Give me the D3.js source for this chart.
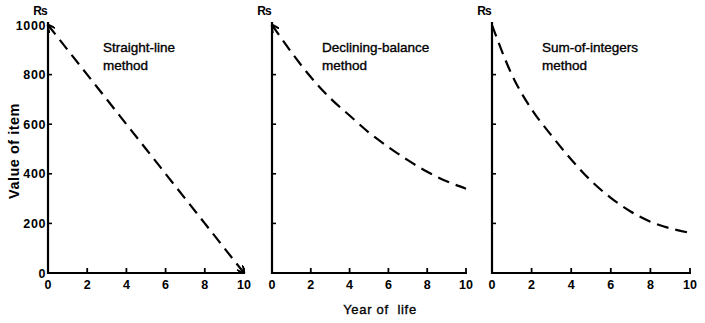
<!DOCTYPE html>
<html><head><meta charset="utf-8">
<script src="https://cdn.jsdelivr.net/npm/d3@7"></script>
<style>
html,body{margin:0;padding:0;background:#fff;}
text{font-family:"Liberation Sans",Arial,Helvetica,sans-serif;fill:#000;}
</style></head>
<body>
<svg id="chart" width="705" height="323"></svg>
<script>
const years = [0,1,2,3,4,5,6,7,8,9,10];
const straightLine = [1000,900,800,700,600,500,400,300,200,100,0];
const decliningBalance = [1000,890,790,705,635,566,508,455,408,370,340];
const sumOfIntegers = [1000,800,660,555,458,372,303,248,207,180,162];
const titles = [["Straight-line","method"],["Declining-balance","method"],["Sum-of-integers","method"]];
const xTicks = [0,2,4,6,8,10];
const yTicks = [0,200,400,600,800,1000];
const yLabel = "Value of item";
const xLabel = "Year of  life";
const unitLabel = "Rs";

const series = [straightLine, decliningBalance, sumOfIntegers];
const panelLeft = [48, 272, 492];
const panelRight = [244, 466, 690];
const svg = d3.select("#chart");

const defs = svg.append("defs");
defs.append("marker").attr("id","arr").attr("viewBox","0 0 10 10").attr("refX",9).attr("refY",5)
  .attr("markerWidth",3.6).attr("markerHeight",3.6).attr("orient","auto-start-reverse")
  .append("path").attr("d","M0,0 L10,5 L0,10").attr("fill","none").attr("stroke","#000").attr("stroke-width",2.4);

const y = d3.scaleLinear().domain([0,1000]).range([273,25]);

series.forEach((vals, i) => {
  const x = d3.scaleLinear().domain([0,10]).range([panelLeft[i], panelRight[i]]);
  const g = svg.append("g");
  g.append("line").attr("x1",x(0)).attr("x2",x(0)).attr("y1",y(0)+1).attr("y2",y(1000)-3)
    .attr("stroke","#000").attr("stroke-width",2.2);
  g.append("line").attr("x1",x(0)-1).attr("x2",x(10)+1).attr("y1",y(0)).attr("y2",y(0))
    .attr("stroke","#000").attr("stroke-width",2.2);
  g.selectAll(".xt").data(xTicks.slice(1)).join("line")
    .attr("x1",d=>x(d)).attr("x2",d=>x(d)).attr("y1",y(0)).attr("y2",y(0)-5)
    .attr("stroke","#000").attr("stroke-width",1.8);
  g.selectAll(".xl").data(xTicks).join("text")
    .attr("x",d=>x(d)).attr("y",289).attr("text-anchor","middle")
    .attr("font-size",12.5).attr("font-weight","bold").text(d=>d);
  g.selectAll(".yt").data(yTicks.slice(1,5)).join("line")
    .attr("x1",x(0)).attr("x2",x(0)+4).attr("y1",d=>y(d)).attr("y2",d=>y(d))
    .attr("stroke","#000").attr("stroke-width",1.6);
  if (i === 0) {
    g.selectAll(".yl").data(yTicks).join("text")
      .attr("x",x(0)-2).attr("y",d=>y(d)+4.5).attr("text-anchor","end")
      .attr("font-size",12.5).attr("font-weight","bold").attr("letter-spacing",0.6).text(d=>d);
  }
  g.append("text").attr("x",x(0)-8).attr("y",15).attr("text-anchor","middle")
    .attr("font-size",12).attr("font-weight","bold").attr("letter-spacing",-1).text(unitLabel);
  const line = d3.line().x((d,j)=>x(years[j])).y(d=>y(d)).curve(d3.curveMonotoneX);
  const p = g.append("path").datum(vals).attr("d",line).attr("fill","none")
    .attr("stroke","#000").attr("stroke-width",2.2).attr("stroke-dasharray","12,7");
  if (i < 2) p.attr("marker-start","url(#arr)");
  if (i === 0) p.attr("marker-end","url(#arr)");
  const tx = x(0) + (i===0?55:50);
  const t = g.append("text").attr("x",tx).attr("y",52).attr("font-size",13.5)
    .attr("stroke","#000").attr("stroke-width",0.35);
  t.append("tspan").attr("x",tx).attr("dy",0).text(titles[i][0]);
  t.append("tspan").attr("x",tx).attr("dy",18).text(titles[i][1]);
});

svg.append("text").attr("transform","translate(19,151) rotate(-90)").attr("text-anchor","middle")
  .attr("font-size",14.5).attr("font-weight","bold").attr("letter-spacing",0.5).text(yLabel);
svg.append("text").attr("x",380).attr("y",314).attr("text-anchor","middle")
  .attr("font-size",13).attr("stroke","#000").attr("stroke-width",0.35).attr("letter-spacing",0.7)
  .attr("xml:space","preserve").style("white-space","pre").text(xLabel);
</script>
</body></html>
